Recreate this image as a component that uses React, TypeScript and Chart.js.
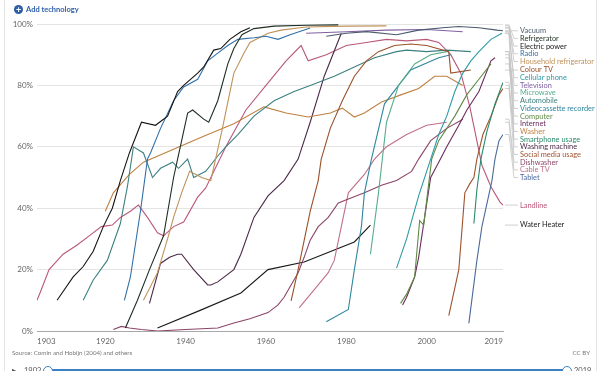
import { useEffect, useRef } from "react";
import { Chart, registerables } from "chart.js";
Chart.register(...registerables);

type Pt = [number, number];

const seriesNames = [
  "Vacuum", "Refrigerator", "Electric power", "Radio", "Household refrigerator",
  "Colour TV", "Cellular phone", "Television", "Microwave", "Automobile",
  "Videocassette recorder", "Computer", "Internet", "Washer", "Smartphone usage",
  "Washing machine", "Social media usage", "Dishwasher", "Cable TV", "Tablet",
  "Landline", "Water Heater",
];

const seriesColors = [
  "#4b5a6e", "#1f2f22", "#151515", "#3270a8", "#c0925a",
  "#9a5129", "#2e9aa6", "#8060a0", "#58ac8c", "#3d8080",
  "#2f86a0", "#5f8a45", "#6a2d5e", "#c08040", "#2b8a6b",
  "#4a2848", "#a0522d", "#8c4569", "#c0708a", "#4c6a9c",
  "#b9587a", "#1a1a1a",
];

const vacuum: Pt[] = [[1975, 96], [1980, 97], [1985, 97.5], [1992.5, 96.5], [1998, 98], [2004, 98.8], [2008, 99.2], [2013, 98.8], [2017.5, 98], [2019, 97.8]];
const refrigerator: Pt[] = [[1925, 1], [1928, 10], [1931, 20], [1934.5, 31], [1937, 50], [1938, 56], [1940.5, 71], [1941.75, 72], [1944.5, 69], [1945.75, 68], [1948, 75], [1950.5, 87], [1952, 92], [1954, 96.5], [1957, 98.5], [1962, 99.3], [1970, 99.6], [1978, 99.7]];
const electricPower: Pt[] = [[1908, 10], [1912, 17.6], [1914.5, 21], [1917, 26], [1919.5, 34], [1921.75, 40], [1923.75, 49], [1926, 58], [1929, 68], [1932.5, 67], [1935.5, 70], [1938, 78], [1939.5, 80], [1943, 84], [1944.5, 86], [1947, 91.5], [1948.75, 92], [1951, 95], [1953.75, 97.5], [1956, 98.8]];
const radio: Pt[] = [[1924.75, 10], [1926.25, 17.6], [1928.75, 39], [1930.5, 56], [1931.25, 58], [1933.75, 66], [1937, 75], [1939.5, 79.5], [1943, 82], [1945.5, 88], [1948, 90.5], [1950.5, 93], [1953, 95], [1957, 95.5], [1960, 96], [1963, 95], [1966, 96.5], [1971, 98.7]];
const householdRefrigerator: Pt[] = [[1929.5, 10], [1933, 19], [1935.5, 30], [1937, 37], [1939, 45], [1941, 52], [1944, 50], [1946.25, 49], [1949, 65], [1952, 84], [1954.5, 90.5], [1956, 94], [1960.5, 97], [1963.75, 98], [1970, 99], [1980, 99.3], [1990, 99.4]];
const colourTv: Pt[] = [[1966.25, 9.8], [1968, 20], [1971, 39], [1973, 49], [1973.75, 56], [1976, 66], [1979, 75], [1982, 83], [1985, 88], [1988, 91], [1992, 93], [1996, 93.5], [2000, 93], [2005.5, 91], [2006, 84], [2011, 85]];
const cellularPhone: Pt[] = [[1992.5, 20.5], [1995, 30], [1998, 44], [2001, 56], [2003, 64], [2005, 70], [2007, 78], [2009, 84], [2011, 88], [2013, 91], [2016, 95], [2018.75, 97]];
const television: Pt[] = [[1970, 97], [1980, 97.5], [1990, 98], [2000, 98.2], [2009, 97.5]];
const microwave: Pt[] = [[1986, 25], [1988, 45], [1990, 68], [1993, 80], [1997, 87], [2001, 90], [2005, 91]];
const automobile: Pt[] = [[1914.5, 10], [1917, 16.6], [1920.5, 23], [1923.75, 35], [1925.5, 47], [1927, 60], [1929.5, 58], [1931.75, 50], [1933.75, 53], [1936.75, 55], [1938.25, 53], [1940.5, 56], [1942, 50], [1945, 52], [1948, 57], [1950, 60], [1953, 64], [1957, 70], [1962, 75], [1967, 78], [1971, 80], [1977, 83], [1982, 86], [1987, 89], [1992.5, 91], [1995, 91.5], [2000, 91], [2005, 91.5], [2011, 91]];
const videocassette: Pt[] = [[1975, 3], [1980.5, 7], [1982, 20], [1983.75, 34], [1984.5, 45], [1986.25, 56], [1989.5, 74], [1993, 80], [1996, 85], [2003, 89], [2006, 90]];
const computer: Pt[] = [[1993.5, 9], [1995, 12], [1997, 17.6], [1998.25, 36], [1999.25, 34.5], [2001.25, 56], [2003, 62], [2007, 70], [2010, 77], [2013, 82], [2016, 87]];
const internet: Pt[] = [[1994, 8.5], [1995, 11], [1997, 17.6], [1998, 24], [2000, 41.5], [2001, 50], [2003, 55], [2005, 60], [2008, 67], [2010, 72], [2013, 78], [2016, 88], [2017, 89]];
const washer: Pt[] = [[1920, 39], [1922, 45], [1926, 51], [1929.5, 55], [1943.75, 63], [1952, 67.5], [1959.5, 73], [1965, 71], [1970.5, 69.7], [1976, 71], [1979, 72.6], [1982, 69.7], [1984.5, 71], [1988.75, 74.6], [1993.75, 77], [1998, 79], [2002, 83], [2005, 83], [2009, 80]];
const smartphone: Pt[] = [[2011.75, 35], [2012.5, 46], [2013.5, 56], [2015, 65], [2017, 74], [2019, 81]];
const washingMachine: Pt[] = [[1931, 9], [1933.75, 22], [1936, 24], [1938, 25], [1939, 25], [1942, 20], [1945.5, 15], [1946.25, 15], [1948, 16], [1952, 20], [1953.75, 25], [1957, 37], [1960.5, 44], [1964.5, 49], [1968, 56], [1971, 68], [1974.5, 83], [1978.75, 97]];
const socialMedia: Pt[] = [[2005.5, 5], [2008, 20], [2009.5, 45], [2010.75, 48], [2011.75, 50], [2012.5, 56], [2014, 64], [2016, 70], [2018, 77], [2019, 79]];
const dishwasher: Pt[] = [[1922, 0.5], [1924, 1.5], [1926, 1], [1929, 0.5], [1933, 0], [1940, 0.5], [1948, 1], [1952, 2.6], [1956, 4], [1960.5, 6], [1963, 8.5], [1964.5, 11], [1968, 19], [1969.5, 24], [1971, 29.6], [1973, 34], [1975.5, 37], [1978, 41.7], [1980.5, 43], [1984.5, 45], [1988.75, 47.5], [1992.5, 49], [1996.25, 52], [1998, 56], [2001, 62], [2005, 66], [2009, 69]];
const cableTv: Pt[] = [[1968.25, 7.5], [1973, 15], [1975.5, 19], [1977, 23], [1978.75, 34], [1980.5, 45], [1984.5, 51], [1987, 56], [1990, 60], [1995, 64], [2000, 67], [2005, 68]];
const tablet: Pt[] = [[2010.5, 2.5], [2012.5, 23], [2013.75, 34], [2016.25, 49], [2017, 56], [2018, 62], [2019, 64]];
const landline: Pt[] = [[1903, 10], [1903.75, 12.4], [1906, 20], [1909.5, 25], [1913, 28], [1916, 31], [1919, 34], [1921.75, 34.5], [1923.75, 37], [1926.25, 39], [1928.25, 41], [1930.5, 37], [1933, 32], [1934.5, 31], [1937, 34], [1939.5, 35.5], [1943, 43.6], [1945, 46.6], [1950, 60], [1955, 72], [1960, 80], [1965, 88], [1968.75, 93], [1970.5, 88], [1975, 90], [1980, 93], [1985, 94], [1990, 95], [1995, 94.5], [2000, 95], [2003, 94], [2006, 90], [2008.5, 84], [2010.75, 73], [2013.75, 54], [2016, 47], [2018.25, 42], [2019, 41]];
const waterHeater: Pt[] = [[1933, 1], [1943.75, 6.8], [1953.75, 12.4], [1960.5, 20], [1969.5, 22.5], [1982, 29], [1986, 34.5]];

const seriesData: Pt[][] = [
  vacuum, refrigerator, electricPower, radio, householdRefrigerator,
  colourTv, cellularPhone, television, microwave, automobile,
  videocassette, computer, internet, washer, smartphone,
  washingMachine, socialMedia, dishwasher, cableTv, tablet,
  landline, waterHeater,
];

const xTickYears = [1903, 1920, 1940, 1960, 1980, 2000, 2019];
const yMin = 0;
const yMax = 100;
const yStep = 20;

const FONT = "Lato, 'Noto Sans', sans-serif";

const overlayPlugin = {
  id: "owidOverlay",
  afterDraw(chart: any) {
    const { ctx, chartArea, scales } = chart;
    const xs = scales.x;
    ctx.save();
    ctx.font = `8px ${FONT}`;
    ctx.fillStyle = "#666";
    ctx.textBaseline = "middle";
    xTickYears.forEach((yr, i) => {
      const px = xs.getPixelForValue(yr);
      ctx.textAlign = i === 0 ? "left" : i === xTickYears.length - 1 ? "right" : "center";
      ctx.fillText(String(yr), px, chartArea.bottom + 10);
    });
    const gap = 7.68;
    let prev = -Infinity;
    const right = chartArea.right;
    ctx.font = `7.4px ${FONT}`;
    ctx.textAlign = "left";
    chart.data.datasets.forEach((ds: any, i: number) => {
      const meta = chart.getDatasetMeta(i);
      const last = meta.data[meta.data.length - 1];
      const ey = last.y;
      const ly = Math.max(ey, chartArea.top + 5, prev + gap);
      prev = ly;
      ctx.strokeStyle = "#c4c4c4";
      ctx.lineWidth = 0.8;
      ctx.beginPath();
      ctx.moveTo(right + 2, ey);
      ctx.lineTo(right + 6, ey);
      ctx.lineTo(right + 11, ly);
      ctx.lineTo(right + 15, ly);
      ctx.stroke();
      ctx.fillStyle = ds.borderColor;
      ctx.fillText(ds.label, right + 17, ly);
    });
    ctx.restore();
  },
};

export default function App() {
  const ref = useRef<HTMLCanvasElement | null>(null);
  useEffect(() => {
    document.body.style.margin = "0";
    const chart = new Chart(ref.current as HTMLCanvasElement, {
      type: "line",
      data: {
        datasets: seriesNames.map((name, i) => ({
          label: name,
          data: seriesData[i].map(([x, y]) => ({ x, y })),
          borderColor: seriesColors[i],
          backgroundColor: seriesColors[i],
          borderWidth: 1.1,
          pointRadius: 0,
          tension: 0,
          fill: false,
        })),
      },
      options: {
        responsive: false,
        animation: false,
        events: [],
        layout: { padding: { left: 0, right: 97, top: 24, bottom: 0 } },
        scales: {
          x: {
            type: "linear",
            min: 1903,
            max: 2019,
            grid: { display: false },
            border: { display: true, color: "#a8a8a8" },
            ticks: { display: false },
            afterFit: (s: any) => { s.height = 40; },
          },
          y: {
            min: yMin,
            max: yMax,
            ticks: {
              stepSize: yStep,
              callback: (v: any) => `${v}%`,
              font: { family: FONT, size: 8 },
              color: "#666",
              padding: 4,
            },
            grid: { color: "#e4e4e4", drawTicks: false },
            border: { display: false },
            afterFit: (s: any) => { s.width = 37; },
          },
        },
        plugins: { legend: { display: false }, tooltip: { enabled: false } },
      },
      plugins: [overlayPlugin],
    });
    return () => chart.destroy();
  }, []);

  return (
    <div style={{ position: "relative", width: 600, height: 371, overflow: "hidden", background: "#fff", fontFamily: FONT }}>
      <div style={{ position: "absolute", left: 4, top: 0, width: 1, height: 371, background: "#e6e6e6" }} />
      <div style={{ position: "absolute", left: 596, top: 0, width: 1, height: 371, background: "#e6e6e6" }} />
      <canvas ref={ref} width={600} height={371} style={{ position: "absolute", left: 0, top: 0 }} />
      <div style={{ position: "absolute", left: 14, top: 5, display: "flex", alignItems: "center", gap: 3 }}>
        <div style={{ width: 9, height: 9, borderRadius: 5, background: "#2d5ea8", color: "#fff", fontSize: 9, lineHeight: "9px", textAlign: "center", fontWeight: 700 }}>+</div>
        <span style={{ fontSize: 7.5, fontWeight: 700, color: "#2d5ea8" }}>Add technology</span>
      </div>
      <div style={{ position: "absolute", left: 12, top: 349, fontSize: 6.2, color: "#777" }}>Source: Comin and Hobijn (2004) and others</div>
      <div style={{ position: "absolute", right: 10, top: 349, fontSize: 6.2, color: "#777" }}>CC BY</div>
      <div style={{ position: "absolute", left: 12, top: 366, fontSize: 8, color: "#555" }}>▶</div>
      <div style={{ position: "absolute", left: 24, top: 366, fontSize: 7.5, color: "#555" }}>1903</div>
      <div style={{ position: "absolute", left: 48, top: 369, width: 518, height: 3, background: "#3b7fc4" }} />
      <div style={{ position: "absolute", left: 43, top: 366, width: 8, height: 8, borderRadius: 5, border: "1px solid #3b7fc4", background: "#fff" }} />
      <div style={{ position: "absolute", left: 562, top: 366, width: 8, height: 8, borderRadius: 5, border: "1px solid #3b7fc4", background: "#fff" }} />
      <div style={{ position: "absolute", left: 574, top: 366, fontSize: 7.5, color: "#555" }}>2019</div>
    </div>
  );
}
